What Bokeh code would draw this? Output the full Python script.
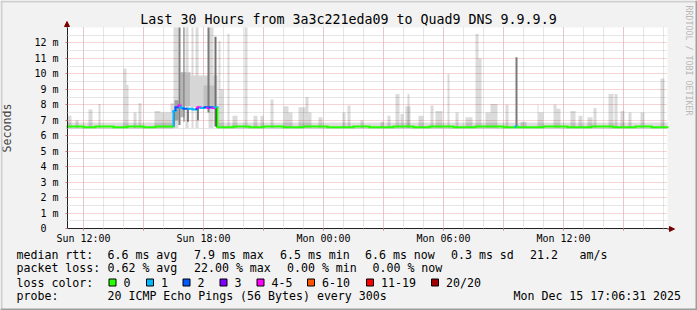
import math
from bokeh.plotting import figure
from bokeh.models import (ColumnDataSource, FixedTicker, Label, BoxAnnotation,
                          Arrow, NormalHead, Range1d, LinearAxis, Grid)
from bokeh.embed import file_html
from bokeh.resources import INLINE

# ---------------------------------------------------------------- data
title_text = "Last 30 Hours from 3a3c221eda09 to Quad9 DNS 9.9.9.9"
x_start_h, x_end_h = 11.2, 41.2          # hours since Sun 00:00
y_max_ms = 13.0

x_label_hours = [12, 18, 24, 30, 36]
x_label_text = ["Sun 12:00", "Sun 18:00", "Mon 00:00", "Mon 06:00", "Mon 12:00"]
x_major_hours = [12, 15, 18, 21, 24, 27, 30, 33, 36, 39]
x_minor_hours = [12, 13, 14, 15, 16, 17, 18, 19, 20, 21, 22, 23, 24, 25, 26, 27,
                 28, 29, 30, 31, 32, 33, 34, 35, 36, 37, 38, 39, 40, 41]
y_major_ms = [0, 1, 2, 3, 4, 5, 6, 7, 8, 9, 10, 11, 12]
y_minor_ms = [0.5, 1.5, 2.5, 3.5, 4.5, 5.5, 6.5, 7.5, 8.5, 9.5, 10.5, 11.5, 12.5]
y_tick_text = ["0\u00a0\u00a0", "1 m", "2 m", "3 m", "4 m", "5 m", "6 m", "7 m",
               "8 m", "9 m", "10 m", "11 m", "12 m"]

# light smoke spikes: start hour, end hour, top (ms); floor of smoke
smoke_floor_ms = 6.5
smoke_t0 = [11.20, 11.60, 12.25, 12.75, 14.00, 14.15, 14.50, 14.75, 15.55, 15.85,
            16.35, 16.50, 17.10, 17.40, 17.60, 18.25, 18.75, 18.85, 19.20, 19.45,
            20.05, 20.50, 20.85, 21.35, 22.00, 22.25, 22.75, 23.10, 23.25, 23.75,
            24.95, 25.20, 25.85, 26.85, 27.20, 27.60, 27.85, 28.10, 28.20, 28.75,
            29.35, 29.60, 30.20, 30.60, 31.10, 31.60, 31.75, 32.10, 32.35, 33.10,
            33.85, 34.70, 34.75, 35.50, 35.65, 36.35, 36.75, 37.20, 37.50, 38.25,
            38.55, 38.85, 39.25, 39.85, 40.85]
smoke_t1 = [11.40, 11.75, 12.45, 12.85, 14.15, 14.25, 14.65, 14.90, 15.85, 16.35,
            16.50, 16.75, 17.25, 17.50, 17.75, 18.50, 18.85, 19.00, 19.30, 19.70,
            20.20, 20.70, 21.00, 21.50, 22.25, 22.45, 23.10, 23.25, 23.40, 23.95,
            25.10, 25.35, 26.00, 27.00, 27.35, 27.80, 28.00, 28.35, 28.30, 29.00,
            29.50, 29.95, 30.30, 30.75, 31.45, 31.75, 31.90, 32.35, 32.70, 33.25,
            34.15, 34.75, 35.00, 35.65, 35.85, 36.60, 36.95, 37.45, 37.65, 38.50,
            38.70, 39.05, 39.40, 40.05, 41.05]
smoke_top = [7.3, 7.0, 7.7, 8.05, 10.35, 9.3, 7.5, 8.1, 7.6, 7.5,
             8.1, 13.0, 13.0, 13.0, 13.0, 13.0, 12.15, 9.0, 12.6, 7.3,
             13.0, 7.3, 7.3, 8.35, 7.9, 7.5, 7.85, 8.5, 7.5, 7.2,
             7.5, 7.95, 7.0, 6.9, 7.3, 8.7, 7.4, 7.9, 8.7, 7.3,
             7.95, 7.6, 10.0, 7.5, 7.2, 12.6, 11.0, 7.5, 8.05, 8.0,
             6.9, 8.0, 7.5, 8.0, 7.75, 7.6, 7.3, 7.2, 7.8, 8.7,
             8.7, 7.6, 7.5, 7.5, 9.7]

# continuous smoke band around the median
band_t0 = [11.2, 18.7]
band_t1 = [16.5, 41.2]
band_lo = [6.45, 6.45]
band_hi = [6.85, 6.85]

# denser (darker) smoke: start, end, low, high (ms), grey level
dense_t0 = [16.55, 16.85, 17.05, 17.35, 18.00, 16.75, 17.00, 18.20, 18.55, 33.60,
            16.50, 17.20, 17.70, 18.62]
dense_t1 = [16.75, 17.05, 17.35, 18.70, 18.55, 16.85, 17.05, 18.30, 18.65, 33.70,
            16.55, 17.25, 17.75, 18.70]
dense_lo = [7.0, 7.2, 7.9, 7.85, 7.85, 6.7, 6.9, 7.5, 6.6, 6.6,
            6.6, 6.9, 7.0, 6.55]
dense_hi = [8.3, 10.1, 10.1, 9.9, 9.25, 13.0, 13.0, 13.0, 12.4, 11.07,
            7.6, 7.75, 7.8, 7.85]
dense_grey = ["#a0a0a0", "#b4b4b4", "#bcbcbc", "#d6d6d6", "#c0c0c0", "#808080",
              "#707070", "#7a7a7a", "#707070", "#7a7a7a",
              "#1a1a1a", "#1a1a1a", "#1a1a1a", "#1a1a1a"]

# median rtt: step start hour, value (ms), loss class index
med_t = [11.2, 12.0, 12.6, 13.5, 14.2, 15.0, 15.6,
         16.50, 16.60, 16.75, 16.85, 17.00, 17.25, 17.45, 17.65, 17.70, 17.85,
         18.05, 18.20, 18.30, 18.45, 18.55,
         18.70, 19.5, 20.3, 21.0, 22.0, 23.0, 24.2, 25.5, 26.3, 27.5, 28.5, 29.3,
         30.5, 31.6, 33.0, 33.60, 33.70, 35.0, 36.2, 37.4, 38.5, 39.6, 40.4]
med_v = [6.6, 6.55, 6.6, 6.55, 6.6, 6.55, 6.6,
         7.6, 7.85, 7.95, 7.8, 7.75, 7.75, 7.7, 7.75, 7.85, 7.8,
         7.85, 7.8, 7.85, 7.8, 7.85,
         6.55, 6.6, 6.55, 6.6, 6.55, 6.6, 6.55, 6.6, 6.55, 6.6, 6.55, 6.6,
         6.55, 6.6, 6.55, 6.6, 6.55, 6.6, 6.55, 6.6, 6.55, 6.6, 6.55]
med_loss = [0, 0, 0, 0, 0, 0, 0,
            1, 2, 4, 1, 2, 1, 1, 2, 4, 1,
            2, 4, 2, 4, 1,
            0, 0, 0, 0, 0, 0, 0, 0, 0, 0, 0, 0,
            0, 0, 0, 1, 0, 0, 0, 0, 0, 0, 0]

loss_labels = ["0", "1", "2", "3", "4-5", "6-10", "11-19", "20/20"]
loss_colors = ["#26ff00", "#00b8ff", "#0059ff", "#7e00ff", "#ff00ff",
               "#ff5500", "#ff0000", "#a10000"]

rtt_stats = ["6.6 ms avg", "7.9 ms max", "6.5 ms min", "6.6 ms now", "0.3 ms sd",
             "21.2", "am/s"]
loss_stats = ["0.62 % avg", "22.00 % max", "0.00 % min", "0.00 % now"]
probe_text = "20 ICMP Echo Pings (56 Bytes) every 300s"
stamp_text = "Mon Dec 15 17:06:31 2025"
watermark = "RRDTOOL / TOBI OETIKER"

# ---------------------------------------------------------------- layout
W, H = 697, 310
FL, FR, FT, FB = 67, 667, 27, 228        # plot area edges (canvas px)
PXH = (FR - FL) / (x_end_h - x_start_h)  # px per hour
PXM = (FB - FT) / y_max_ms               # px per ms
MONO = "DejaVu Sans Mono"

# the figure frame is the whole canvas (in canvas pixels, y down);
# the chart data lives on the extra ranges "t" (hours) and "ms"
p = figure(width=W, height=H, x_range=Range1d(0, W), y_range=Range1d(H, 0),
           x_axis_type=None, y_axis_type=None, output_backend="svg",
           toolbar_location=None, title=None, min_border=0,
           background_fill_color="#f2f2f2", border_fill_color="#f2f2f2")
p.outline_line_color = None
p.extra_x_ranges = {"t": Range1d(x_start_h - FL / PXH, x_start_h + (W - FL) / PXH)}
p.extra_y_ranges = {"ms": Range1d(-(H - FB) / PXM, FB / PXM)}
TM = dict(x_range_name="t", y_range_name="ms")

# white canvas of the graph
p.quad(left=[x_start_h], right=[x_end_h], bottom=[0], top=[y_max_ms],
       fill_color="white", line_color=None, level="image", **TM)

# grids
have_cross = "cross_bounds" in Grid.properties()
xg = Grid(dimension=0, ticker=FixedTicker(ticks=x_major_hours, minor_ticks=x_minor_hours),
          bounds=(x_start_h, x_end_h), **TM)
yg = Grid(dimension=1, ticker=FixedTicker(ticks=y_major_ms, minor_ticks=y_minor_ms),
          bounds=(0, y_max_ms), **TM)
if have_cross:
    xg.cross_bounds = (0, y_max_ms)
    yg.cross_bounds = (x_start_h, x_end_h)
for g in (xg, yg):
    g.grid_line_color = "#e8a8a8"
    g.grid_line_dash = "1 1"
    g.grid_line_width = 1
    g.minor_grid_line_color = "#cccccc"
    g.minor_grid_line_dash = "1 1"
    if not have_cross:
        g.visible = False
    p.add_layout(g)
if not have_cross:
    for ticks, col in ((x_minor_hours, "#cccccc"), (x_major_hours, "#e8a8a8")):
        p.segment(x0=ticks, x1=ticks, y0=[0] * len(ticks), y1=[y_max_ms] * len(ticks),
                  line_color=col, line_dash="1 1", level="underlay", **TM)
    for ticks, col in ((y_minor_ms, "#cccccc"), (y_major_ms[1:], "#e8a8a8")):
        p.segment(x0=[x_start_h] * len(ticks), x1=[x_end_h] * len(ticks), y0=ticks,
                  y1=ticks, line_color=col, line_dash="1 1", level="underlay", **TM)

# axes pinned to the plot-area edges
xaxis = LinearAxis(fixed_location=0, bounds=(x_start_h, x_end_h),
                   ticker=FixedTicker(ticks=x_major_hours, minor_ticks=x_minor_hours),
                   **TM)
xo = {h: "" for h in x_major_hours}
xo.update(dict(zip(x_label_hours, x_label_text)))
xaxis.major_label_overrides = xo
yaxis = LinearAxis(fixed_location=x_start_h, bounds=(0, y_max_ms),
                   ticker=FixedTicker(ticks=y_major_ms, minor_ticks=y_minor_ms),
                   **TM)
yaxis.major_label_overrides = dict(zip(y_major_ms, y_tick_text))
for ax in (xaxis, yaxis):
    ax.axis_line_color = "#222222"
    ax.major_tick_line_color = "#d07070"
    ax.major_tick_out = 2
    ax.major_tick_in = 0
    ax.minor_tick_line_color = "#b0b0b0"
    ax.minor_tick_out = 1
    ax.minor_tick_in = 0
    ax.major_label_text_font = MONO
    ax.major_label_text_font_size = "10px"
    ax.major_label_text_color = "black"
xaxis.major_label_standoff = 2
yaxis.major_label_standoff = 7
yaxis.axis_label = "Seconds"
yaxis.axis_label_text_font = MONO
yaxis.axis_label_text_font_size = "11.6px"
yaxis.axis_label_text_font_style = "normal"
yaxis.axis_label_standoff = 17
p.add_layout(xaxis, "below")
p.add_layout(yaxis, "left")

# smoke
p.quad(left=band_t0, right=band_t1, bottom=band_lo, top=band_hi,
       fill_color="black", fill_alpha=0.13, line_color=None, **TM)
p.quad(left=smoke_t0, right=smoke_t1, bottom=[smoke_floor_ms] * len(smoke_t0),
       top=smoke_top, fill_color="black", fill_alpha=0.14, line_color=None, **TM)
p.quad(left=dense_t0, right=dense_t1, bottom=dense_lo, top=dense_hi,
       fill_color=dense_grey, line_color=None, **TM)

# median line coloured by loss
t_next = med_t[1:] + [x_end_h]
hs = ColumnDataSource(dict(x0=med_t, x1=t_next, y0=med_v, y1=med_v,
                           c=[loss_colors[i] for i in med_loss]))
p.segment("x0", "y0", "x1", "y1", source=hs, line_color="c", line_width=2,
          line_cap="square", **TM)
vs = ColumnDataSource(dict(x=med_t[1:], y0=med_v[:-1], y1=med_v[1:],
                           c=[loss_colors[i] for i in med_loss[1:]]))
p.segment("x", "y0", "x", "y1", source=vs, line_color="c", line_width=2, **TM)

# ---------------------------------------------------------------- texts
def txt(px, py, text, size="11.6px", align="left", angle=0.0, color="black"):
    p.add_layout(Label(x=px, y=py, text=text, text_font=MONO, text_font_size=size,
                       text_align=align, text_baseline="middle", angle=angle,
                       text_color=color))

def box(x0, y0, x1, y1, fill, line=None):
    p.add_layout(BoxAnnotation(left=x0, right=x1, top=y0, bottom=y1,
                               fill_color=fill, fill_alpha=1, line_color=line,
                               line_alpha=1, line_width=1, level="overlay"))

txt(348, 19, title_text, size="13.3px", align="center")
txt(688, 60, watermark, size="8.3px", align="center", angle=-math.pi / 2,
    color="#b8b8b8")

rows_y = [254.3, 267.7, 282.3, 295.7]
txt(16, rows_y[0], "median rtt:")
for x, s in zip([107, 193.5, 279.5, 364.5, 450.5, 529.5, 579], rtt_stats):
    txt(x, rows_y[0], s)
txt(16, rows_y[1], "packet loss:")
for x, s in zip([107, 193.5, 286.5, 372], loss_stats):
    txt(x, rows_y[1], s)
txt(16, rows_y[2], "loss color:")
for x, lab, col in zip([108, 145.5, 182, 219, 256, 306.5, 365.5, 430.5],
                       loss_labels, loss_colors):
    box(x + 0.5, 278.5, x + 7.5, 285.5, col, "black")
    txt(x + 15, rows_y[2], lab)
txt(16, rows_y[3], "probe:")
txt(107, rows_y[3], probe_text)
txt(513, rows_y[3], stamp_text)

# axis arrows
head = dict(size=5, fill_color="#800000", line_color="#800000")
p.add_layout(Arrow(x_start=FR, y_start=FB + 0.5, x_end=FR + 7, y_end=FB + 0.5,
                   end=NormalHead(**head), line_color="#222222", line_width=1))
p.add_layout(Arrow(x_start=FL - 0.5, y_start=FT, x_end=FL - 0.5, y_end=FT - 6,
                   end=NormalHead(**head), line_color="#222222", line_width=1))

# 3D frame of the image
box(0, 0, W, 2, "#cfcfcf")
box(0, 0, 2, H, "#cfcfcf")
box(0, H - 2, W, H, "#9e9e9e")
box(W - 2, 0, W, H, "#9e9e9e")

open("out.html", "w").write(file_html(p, INLINE))
